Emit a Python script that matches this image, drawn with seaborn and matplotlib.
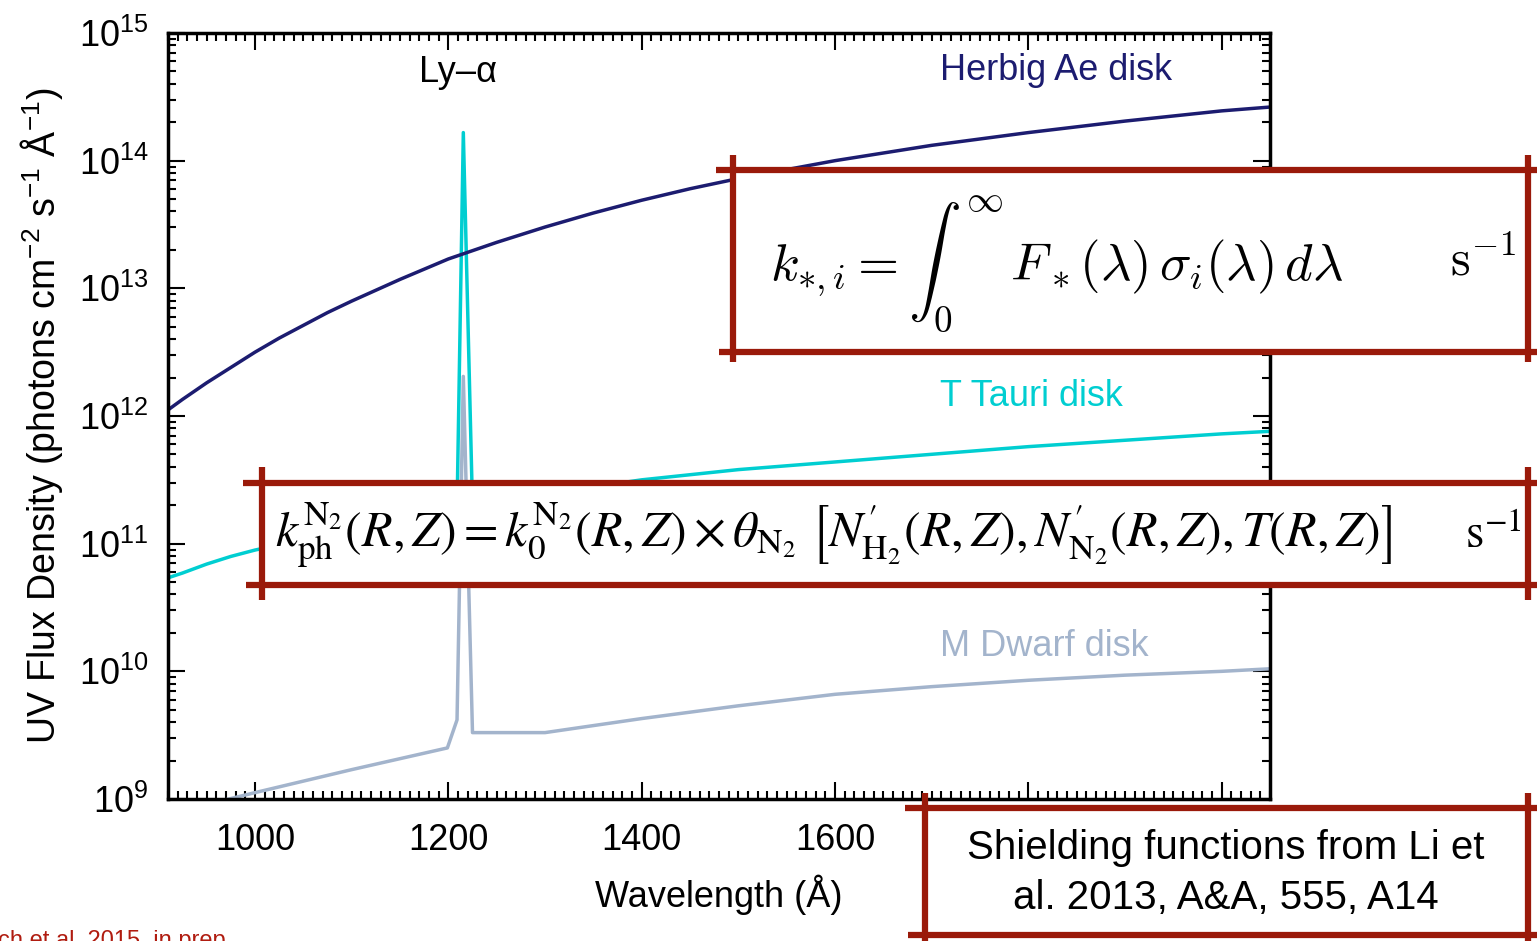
import seaborn as sns
import matplotlib.pyplot as plt
import pandas as pd
import numpy as np
from matplotlib.ticker import MultipleLocator, LogLocator, NullFormatter
from matplotlib.patches import Rectangle

sns.set_theme(style="ticks")
plt.rcParams['font.family'] = ['Liberation Sans', 'DejaVu Sans']
plt.rcParams['mathtext.fontset'] = 'custom'
plt.rcParams['mathtext.rm'] = 'Liberation Sans'
plt.rcParams['mathtext.it'] = 'Liberation Sans:italic'
for k in ['text.color', 'axes.labelcolor', 'xtick.color', 'ytick.color']:
    plt.rcParams[k] = 'black'

herbig_wl = [905, 925, 950, 975, 1000, 1025, 1050, 1075, 1100, 1150, 1200, 1250,
             1300, 1350, 1400, 1450, 1500, 1600, 1700, 1800, 1900, 2000, 2050]
herbig_log = [12.02, 12.13, 12.26, 12.38, 12.50, 12.61, 12.71, 12.81, 12.90, 13.07,
              13.23, 13.36, 13.48, 13.59, 13.69, 13.78, 13.86, 14.00, 14.12, 14.22,
              14.31, 14.39, 14.42]

ttauri_wl = [905, 925, 950, 975, 1000, 1050, 1100, 1150, 1199, 1209, 1215.5, 1225,
             1300, 1400, 1500, 1600, 1700, 1800, 1900, 2000, 2050]
ttauri_log = [10.72, 10.77, 10.84, 10.90, 10.95, 11.03, 11.11, 11.18, 11.25, 11.27,
              14.22, 11.29, 11.39, 11.50, 11.58, 11.64, 11.70, 11.76, 11.81, 11.86,
              11.88]

mdwarf_wl = [905, 973, 1000, 1100, 1199, 1209, 1215.5, 1225, 1300, 1400, 1500,
             1600, 1700, 1800, 1900, 2000, 2050]
mdwarf_log = [8.88, 9.00, 9.05, 9.23, 9.40, 9.62, 12.31, 9.52, 9.52, 9.63, 9.73,
              9.82, 9.88, 9.93, 9.97, 10.00, 10.02]

c_herbig = "#1c1c70"
c_ttauri = "#00ced1"
c_mdwarf = "#a3b4cc"
c_red = "#9a1a0a"

fig = plt.figure(figsize=(15.37, 9.41), dpi=100)
ax = fig.add_axes([168/1537, 1-799/941, (1270-168)/1537, (799-33)/941])

for wl, lg, col in [(mdwarf_wl, mdwarf_log, c_mdwarf),
                    (ttauri_wl, ttauri_log, c_ttauri),
                    (herbig_wl, herbig_log, c_herbig)]:
    df = pd.DataFrame({"wl": wl, "flux": 10**np.array(lg)})
    sns.lineplot(x="wl", y="flux", data=df, color=col, lw=2.5, ax=ax)

ax.set_yscale("log")
ax.set_xlim(910, 2050)
ax.set_ylim(1e9, 1e15)
ax.xaxis.set_major_locator(MultipleLocator(200))
ax.xaxis.set_minor_locator(MultipleLocator(10))
ax.yaxis.set_major_locator(LogLocator(base=10, numticks=10))
ax.yaxis.set_minor_locator(LogLocator(base=10, subs=np.arange(2, 10), numticks=20))
ax.yaxis.set_minor_formatter(NullFormatter())
ax.tick_params(which="both", direction="in", top=True, right=True,
               labelsize=26, width=1.5)
ax.tick_params(which="major", length=12)
ax.tick_params(which="minor", length=6)
ax.tick_params(axis="x", pad=17)
ax.tick_params(axis="y", pad=14)
for s in ax.spines.values():
    s.set_linewidth(2.5)
    s.set_color("black")

ax.set_xlabel("Wavelength (Å)", fontsize=26, labelpad=12)
ax.set_ylabel("UV Flux Density (photons cm$^{-2}$ s$^{-1}$ Å$^{-1}$)", fontsize=27,
              labelpad=10)

# Overlay in Pixelkoordinaten
ov = fig.add_axes([0, 0, 1, 1])
ov.set_xlim(0, 1537)
ov.set_ylim(941, 0)
ov.axis("off")

ov.text(458, 72, "Ly–α", fontsize=26, ha="center", va="center")
ov.text(940, 70, "Herbig Ae disk", fontsize=26, ha="left", va="center", color=c_herbig)
ov.text(940, 397, "T Tauri disk", fontsize=26, ha="left", va="center", color=c_ttauri)
ov.text(940, 646, "M Dwarf disk", fontsize=26, ha="left", va="center", color=c_mdwarf)


def frame(x0, x1, y0, y1, hx0, vy0, vy1):
    ov.add_patch(Rectangle((x0, y0), x1-x0, y1-y0, facecolor="white", edgecolor="none"))
    ov.plot([hx0, 1537], [y0, y0], color=c_red, lw=4.5, solid_capstyle="butt")
    ov.plot([hx0 + 3, 1537], [y1, y1], color=c_red, lw=4.5, solid_capstyle="butt")
    ov.plot([x0, x0], [vy0, vy1], color=c_red, lw=4.5, solid_capstyle="butt")
    ov.plot([x1, x1], [vy0, vy1], color=c_red, lw=4.5, solid_capstyle="butt")


frame(733, 1528, 170, 352, 716, 155, 362)
frame(262, 1528, 483, 585, 243, 467, 600)
frame(925, 1528, 808, 935, 905, 793, 941)

ov.text(770, 264, r"$k_{*,i} = \int_0^{\infty}\, F_*(\lambda)\,\sigma_i(\lambda)\,d\lambda$",
        fontsize=38, math_fontfamily="cm", ha="left", va="center")
ov.text(1450, 262, r"$\mathrm{s}^{-1}$", fontsize=36, math_fontfamily="cm",
        ha="left", va="center")

ov.text(275, 536, r"$k_{\mathrm{ph}}^{\mathrm{N}_2}(R,Z) = k_0^{\mathrm{N}_2}(R,Z)\times\theta_{\mathrm{N}_2}"
        r"\ \left[N^{\prime}_{\mathrm{H}_2}(R,Z), N^{\prime}_{\mathrm{N}_2}(R,Z), T(R,Z)\right]$",
        fontsize=36, math_fontfamily="stix", ha="left", va="center")
ov.text(1465, 536, r"$\mathrm{s}^{-1}$", fontsize=34, math_fontfamily="stix",
        ha="left", va="center")

ov.text(1226, 873, "Shielding functions from Li et\nal. 2013, A&A, 555, A14",
        fontsize=29, ha="center", va="center", linespacing=1.38)

ov.text(-2, 930, "ch et al. 2015, in prep", fontsize=17, color="#b01c10",
        ha="left", va="top")

plt.savefig("out.png", dpi=100)
